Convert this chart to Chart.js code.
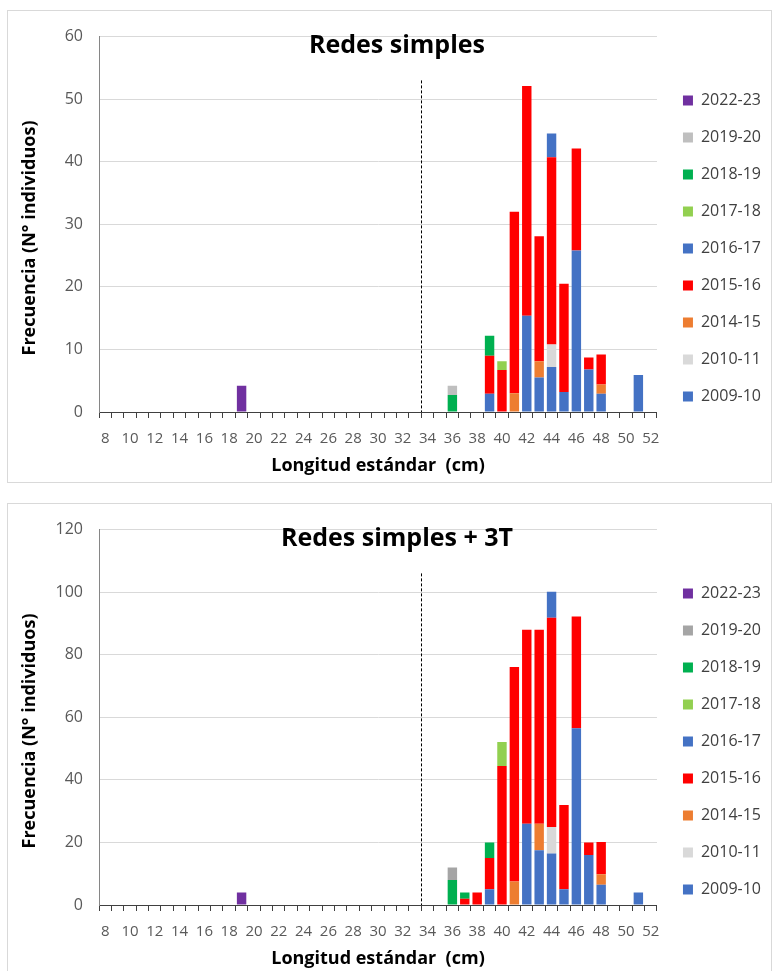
<!DOCTYPE html>
<html>
<head>
<meta charset="utf-8">
<script src="https://cdn.jsdelivr.net/npm/chart.js@4.4.1/dist/chart.umd.min.js"></script>
<style>
  body { margin: 0; background: #fff; font-family: "Open Sans", sans-serif; }
  .box { position: absolute; left: 7px; width: 763px; height: 471px; border: 1px solid #d9d9d9; background: #fff; }
  .box canvas { width: 763px !important; height: 471px !important; }
</style>
</head>
<body>
<div class="box" style="top:10px"><canvas id="chartTop"></canvas></div>
<div class="box" style="top:503px"><canvas id="chartBottom"></canvas></div>
<script>
// standard length classes (cm)
const lengths = [8, 9, 10, 11, 12, 13, 14, 15, 16, 17, 18, 19, 20, 21, 22, 23, 24, 25, 26, 27, 28, 29, 30,
  31, 32, 33, 34, 35, 36, 37, 38, 39, 40, 41, 42, 43, 44, 45, 46, 47, 48, 49, 50, 51, 52];

// stacking order, bottom to top
const seasons = ['2009-10', '2010-11', '2014-15', '2015-16', '2016-17', '2017-18', '2018-19', '2019-20', '2022-23'];
const colorsTop = ['#4472C4', '#D9D9D9', '#ED7D31', '#FF0000', '#4472C4', '#92D050', '#00B050', '#BFBFBF', '#7030A0'];
const colorsBottom = ['#4472C4', '#D9D9D9', '#ED7D31', '#FF0000', '#4472C4', '#92D050', '#00B050', '#A5A5A5', '#7030A0'];

// Redes simples: [length, frequency]
const simple_2009_10 = [[39, 2.9], [42, 15.4], [43, 5.5], [44, 7.2], [45, 3.2], [46, 25.8], [47, 6.8], [48, 2.9], [51, 5.9]];
const simple_2010_11 = [[44, 3.6]];
const simple_2014_15 = [[41, 3.0], [43, 2.6], [48, 1.5]];
const simple_2015_16 = [[39, 6.1], [40, 6.7], [41, 29.0], [42, 36.7], [43, 20.0], [44, 29.9], [45, 17.3], [46, 16.3], [47, 1.9], [48, 4.8]];
const simple_2016_17 = [[44, 3.8]];
const simple_2017_18 = [[40, 1.4]];
const simple_2018_19 = [[36, 2.7], [39, 3.2]];
const simple_2019_20 = [[36, 1.5]];
const simple_2022_23 = [[19, 4.2]];

// Redes simples + 3T
const tram_2009_10 = [[39, 5], [42, 26], [43, 17.5], [44, 16.5], [45, 5], [46, 56.5], [47, 16], [48, 6.5], [51, 4]];
const tram_2010_11 = [[44, 8.4]];
const tram_2014_15 = [[41, 7.5], [43, 8.5], [48, 3.3]];
const tram_2015_16 = [[37, 2], [38, 4], [39, 10], [40, 44.4], [41, 68.6], [42, 62], [43, 62], [44, 66.9], [45, 27], [46, 35.7], [47, 4], [48, 10.3]];
const tram_2016_17 = [[44, 8.3]];
const tram_2017_18 = [[40, 7.7]];
const tram_2018_19 = [[36, 8], [37, 2], [39, 5]];
const tram_2019_20 = [[36, 4]];
const tram_2022_23 = [[19, 4]];

const simpleSeries = [simple_2009_10, simple_2010_11, simple_2014_15, simple_2015_16, simple_2016_17,
  simple_2017_18, simple_2018_19, simple_2019_20, simple_2022_23];
const tramSeries = [tram_2009_10, tram_2010_11, tram_2014_15, tram_2015_16, tram_2016_17,
  tram_2017_18, tram_2018_19, tram_2019_20, tram_2022_23];

const FONT = "'Open Sans', 'Noto Sans', sans-serif";

// chart title and y title drawn freely, like the Excel chart
const overTitle = {
  id: 'overTitle',
  afterDraw(chart, args, opts) {
    const ctx = chart.ctx;
    ctx.save();
    ctx.fillStyle = '#000';
    ctx.textAlign = 'center';
    ctx.textBaseline = 'middle';
    ctx.font = 'bold 25px ' + FONT;
    ctx.fillText(opts.text, opts.x, opts.y);
    ctx.font = 'bold 18px ' + FONT;
    ctx.translate(22, 227);
    ctx.rotate(-Math.PI / 2);
    ctx.fillText('Frecuencia (N° individuos)', 0, 0);
    ctx.restore();
  }
};

// nudge the legend to where Excel puts it
const legendShift = {
  id: 'legendShift',
  afterLayout(chart, args, opts) {
    const lg = chart.legend;
    lg.left += opts.dx; lg.right += opts.dx;
    lg.top += opts.dy; lg.bottom += opts.dy;
  }
};

// dashed reference line between 33 and 34 cm
const cutLine = {
  id: 'cutLine',
  afterDatasetsDraw(chart, args, opts) {
    const x = chart.scales.x, y = chart.scales.y;
    const i = lengths.indexOf(opts.after);
    const px = (x.getPixelForValue(i) + x.getPixelForValue(i + 1)) / 2;
    const ctx = chart.ctx;
    ctx.save();
    ctx.strokeStyle = '#000';
    ctx.lineWidth = 1;
    ctx.setLineDash([3, 2]);
    ctx.beginPath();
    ctx.moveTo(Math.round(px) + 0.5, y.getPixelForValue(opts.top));
    ctx.lineTo(Math.round(px) + 0.5, y.getPixelForValue(0));
    ctx.stroke();
    ctx.restore();
  }
};

function makeChart(id, title, series, colors, yMax, yStep, lineTop) {
  const datasets = seasons.map((s, k) => ({
    label: s,
    data: series[k].map(p => ({ x: String(p[0]), y: p[1] })),
    backgroundColor: colors[k],
    borderWidth: 0,
    barPercentage: 0.76,
    categoryPercentage: 1
  }));

  return new Chart(document.getElementById(id), {
    type: 'bar',
    data: { labels: lengths.map(String), datasets: datasets },
    options: {
      responsive: true,
      maintainAspectRatio: false,
      animation: false,
      layout: { padding: { top: 24, right: 5, left: 0, bottom: 0 } },
      plugins: {
        legend: {
          position: 'right',
          reverse: true,
          maxWidth: 113,
          labels: {
            boxWidth: 10, boxHeight: 10, padding: 21,
            color: '#404040',
            font: { family: FONT, size: 16 }
          }
        },
        tooltip: { enabled: false },
        overTitle: { text: title, x: 389, y: 35 },
        legendShift: { dx: 5, dy: -10 },
        cutLine: { after: 33, top: lineTop }
      },
      scales: {
        x: {
          stacked: true,
          afterFit(scale) { scale.height = 70; },
          grid: { offset: true, drawOnChartArea: false, drawTicks: true, tickLength: 6, color: '#404040' },
          border: { color: '#404040' },
          ticks: {
            autoSkip: false, maxRotation: 0, padding: 12,
            color: '#595959', font: { family: FONT, size: 15 },
            callback: (v, i) => (lengths[i] % 2 === 0 ? String(lengths[i]) : '')
          },
          title: {
            display: true, text: 'Longitud estándar  (cm)', color: '#000',
            font: { family: FONT, size: 18, weight: 'bold' }, padding: { top: 0, bottom: 5 }
          }
        },
        y: {
          stacked: true,
          min: 0, max: yMax,
          afterFit(scale) { scale.width = 91; },
          grid: { color: '#d9d9d9', drawTicks: false },
          border: { color: '#868686' },
          ticks: { stepSize: yStep, padding: 16, color: '#595959', font: { family: FONT, size: 16 } }
        }
      }
    },
    plugins: [overTitle, legendShift, cutLine]
  });
}

makeChart('chartTop', 'Redes simples', simpleSeries, colorsTop, 60, 10, 53);
makeChart('chartBottom', 'Redes simples + 3T', tramSeries, colorsBottom, 120, 20, 106);
</script>
</body>
</html>
